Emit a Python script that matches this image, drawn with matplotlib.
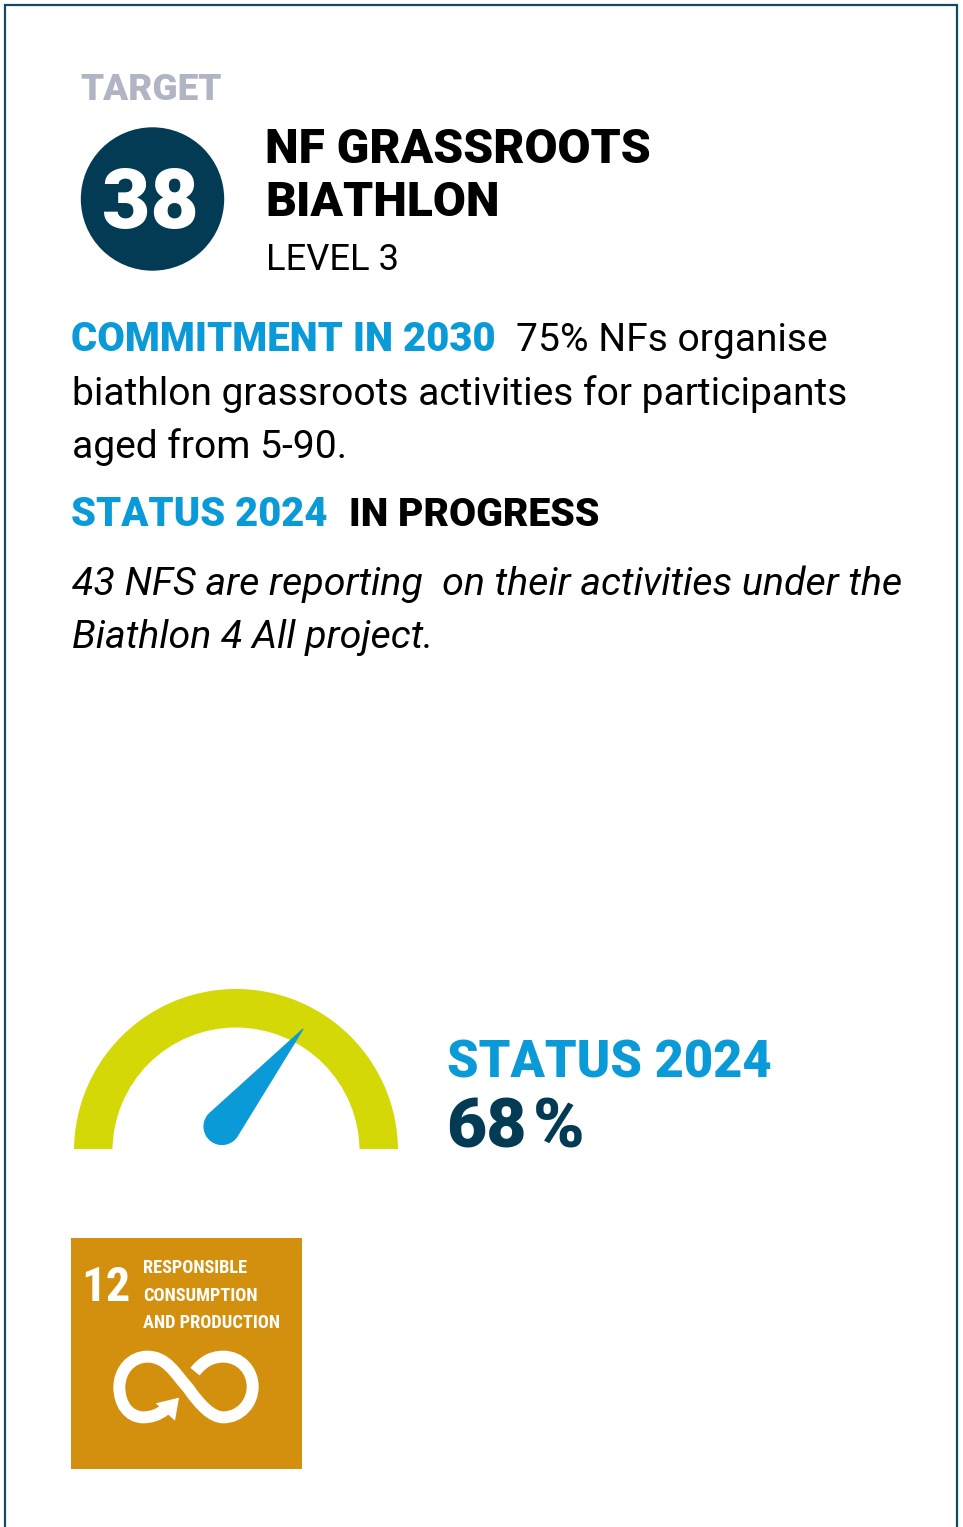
import numpy as np
import matplotlib
matplotlib.use('Agg')
import matplotlib.pyplot as plt
from matplotlib.patches import Wedge, Circle, Rectangle, Polygon, PathPatch
from matplotlib.path import Path

target_no = '38'
title_lines = ['NF GRASSROOTS', 'BIATHLON']
level = 'LEVEL 3'
commitment = ['75% NFs organise', 'biathlon grassroots activities for participants', 'aged from 5-90.']
status_word = 'IN PROGRESS'
status_note = ['43 NFS are reporting  on their activities under the', 'Biathlon 4 All project.']
gauge_value = 68
sdg_lines = ['RESPONSIBLE', 'CONSUMPTION', 'AND PRODUCTION']

BLUE = '#0A9AD7'
NAVY = '#033A54'
LIME = '#D4D807'
GREY = '#B0B4C3'
SDG = '#D3900F'

plt.rcParams['font.family'] = ['Roboto', 'DejaVu Sans']

fig = plt.figure(figsize=(9.63, 15.27), dpi=100)
ax = fig.add_axes([0, 0, 1, 1])
ax.set_xlim(0, 963)
ax.set_ylim(1527, 0)
ax.axis('off')


def txt(x, y, s, size, color='black', weight='normal', style='normal', **kw):
    ax.text(x, y, s, fontsize=size, color=color, fontweight=weight, fontstyle=style,
            va='baseline', **kw)


# card border, open at the bottom
ax.plot([5, 5, 957, 957], [1527, 5, 5, 1527], color='#0F4B63', lw=1.6, solid_joinstyle='miter')

# header
txt(80, 100, 'TARGET', 26.6, GREY, 900)
ax.add_patch(Circle((152.5, 199), 71.7, color=NAVY, lw=0))
txt(150.5, 228, target_no, 60, 'white', 900, ha='center')
txt(265, 163, title_lines[0], 34.5, 'black', 900)
txt(265, 215.5, title_lines[1], 34.5, 'black', 900)
txt(266, 270.5, level, 26.2)

# text block
txt(71, 351, 'COMMITMENT IN 2030', 28.8, BLUE, 900)
txt(516, 351, commitment[0], 28.1)
txt(72, 405, commitment[1], 28.1)
txt(72, 457.5, commitment[2], 28.1)
txt(71, 526, 'STATUS 2024', 28.7, BLUE, 900)
txt(349, 526, status_word, 28.2, 'black', 900)
txt(72, 595, status_note[0], 28.4, style='italic')
txt(72, 648, status_note[1], 28.4, style='italic')

# gauge
cx, cy = 236, 1151
arc = Wedge((cx, cy), 162, 180, 360, width=38.5, color=LIME, lw=0)
ax.add_patch(arc)
arc.set_clip_path(Rectangle((0, 0), 963, 1149, transform=ax.transData))
hub = np.array([222.0, 1126.5])
tip = np.array([303.0, 1029.0])
r = 18.0
d = tip - hub
ang = np.arctan2(d[1], d[0])
a = np.arccos(r / np.hypot(*d))
arc_t = np.linspace(ang + a, ang - a + 2 * np.pi, 40)
hub_pts = np.column_stack([hub[0] + r * np.cos(arc_t), hub[1] + r * np.sin(arc_t)])
ax.add_patch(Polygon(np.vstack([tip, hub_pts]), closed=True, fc=BLUE, ec=BLUE, lw=0.8))

txt(447, 1077, 'STATUS 2024', 36.4, BLUE, 900)
txt(446, 1147, str(gauge_value), 50, NAVY, 900)
txt(533, 1147, '%', 50, NAVY, 900)

# SDG 12 tile
ax.add_patch(Rectangle((71, 1238), 231, 231, color=SDG, lw=0))
narrow = ['Roboto Condensed', 'Roboto']
ax.text(81, 1301, '12', fontsize=35, color='white', fontweight='bold', family=narrow, va='baseline')
for yy, s in zip([1273, 1301, 1328], sdg_lines):
    ax.text(143, yy, s, fontsize=13.2, color='white', fontweight='bold', family=narrow, va='baseline')


def z(pts):
    return [(60 + p[0] / 3, 1230 + p[1] / 3) for p in pts]


verts = z([(316, 538), (295, 556), (270, 562), (250, 562),
           (205, 562), (178, 520), (178, 472),
           (178, 420), (215, 380), (262, 380),
           (320, 380), (345, 430), (385, 475),
           (420, 525), (455, 562), (490, 562),
           (540, 562), (578, 520), (578, 470),
           (578, 420), (540, 380), (490, 380),
           (450, 380), (425, 400), (405, 425)])
codes = [Path.MOVETO] + [Path.CURVE4] * 24
ax.add_patch(PathPatch(Path(verts, codes), fc='none', ec='white', lw=8.6, capstyle='butt'))
ax.add_patch(Polygon(z([(357, 503), (345, 572), (287, 520)]), closed=True, color='white', lw=0))

fig.savefig('out.png', dpi=100, facecolor='white')
